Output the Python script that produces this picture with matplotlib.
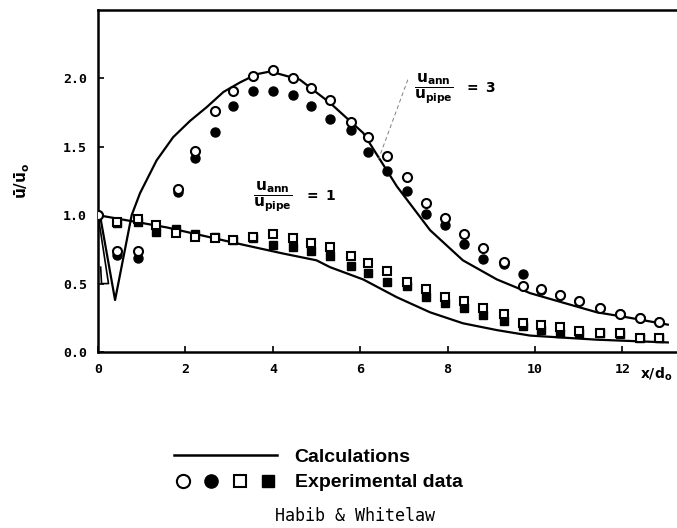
import numpy as np
import matplotlib.pyplot as plt
from matplotlib.lines import Line2D
from matplotlib.legend_handler import HandlerTuple

plt.rcParams['mathtext.fontset'] = 'dejavusans'

# calculations, u_ann/u_pipe = 3
calc3_x = [0.05, 0.39, 0.77, 0.96, 1.34, 1.72, 2.11, 2.49, 2.87, 3.25, 3.63, 3.94, 4.62, 5.31, 6.07, 6.84, 7.60, 8.35, 9.13, 9.89, 10.65, 11.42, 12.17, 13.04]
calc3_y = [0.99, 0.38, 1.0, 1.16, 1.40, 1.57, 1.69, 1.79, 1.90, 1.97, 2.03, 2.05, 1.99, 1.82, 1.60, 1.21, 0.89, 0.67, 0.53, 0.43, 0.36, 0.29, 0.25, 0.20]
# small kink near the inlet
kink_x = [0.0, 0.24, 0.08, 0.06]
kink_y = [1.0, 0.50, 0.50, 0.62]
# calculations, u_ann/u_pipe = 1
calc1_x = [0.0, 1.58, 3.09, 4.23, 5.0, 5.31, 6.07, 6.84, 7.60, 8.35, 9.13, 9.89, 11.42, 13.04]
calc1_y = [1.0, 0.91, 0.80, 0.72, 0.67, 0.62, 0.53, 0.40, 0.29, 0.21, 0.16, 0.12, 0.09, 0.07]

# experimental data, ratio 3 (circles)
circ_x = [0.0, 0.43, 0.92, 1.83, 2.22, 2.68, 3.1, 3.55, 4.0, 4.46, 4.87, 5.31, 5.78, 6.18, 6.61, 7.06, 7.51, 7.94, 8.37, 8.81, 9.29, 9.73, 10.14, 10.57, 11.0, 11.49, 11.95, 12.4, 12.84]
circ_open = [1.0, 0.74, 0.74, 1.19, 1.47, 1.76, 1.91, 2.02, 2.06, 2.0, 1.93, 1.84, 1.68, 1.57, 1.43, 1.28, 1.09, 0.98, 0.86, 0.76, 0.66, 0.48, 0.46, 0.42, 0.37, 0.32, 0.28, 0.25, 0.22]
circ_fill = [1.0, 0.71, 0.69, 1.17, 1.42, 1.61, 1.80, 1.91, 1.91, 1.88, 1.80, 1.70, 1.62, 1.46, 1.32, 1.18, 1.01, 0.93, 0.79, 0.68, 0.64, 0.57, 0.45, 0.42, 0.37, 0.32, 0.28, 0.25, 0.22]

# experimental data, ratio 1 (squares)
sq_x = [0.43, 0.92, 1.33, 1.78, 2.22, 2.68, 3.1, 3.55, 4.0, 4.46, 4.87, 5.31, 5.78, 6.18, 6.61, 7.06, 7.51, 7.94, 8.37, 8.81, 9.29, 9.73, 10.14, 10.57, 11.0, 11.49, 11.95, 12.4, 12.84]
sq_open = [0.95, 0.97, 0.93, 0.87, 0.84, 0.83, 0.82, 0.84, 0.86, 0.83, 0.80, 0.77, 0.70, 0.65, 0.59, 0.51, 0.46, 0.40, 0.37, 0.32, 0.28, 0.21, 0.20, 0.18, 0.15, 0.14, 0.14, 0.10, 0.10]
sq_fill = [0.94, 0.95, 0.88, 0.90, 0.86, 0.84, 0.82, 0.83, 0.78, 0.77, 0.74, 0.70, 0.63, 0.58, 0.51, 0.48, 0.40, 0.36, 0.32, 0.27, 0.23, 0.19, 0.16, 0.14, 0.14, 0.14, 0.13, 0.10, 0.10]

xticks = [0, 2, 4, 6, 8, 10, 12]
yticks = [0.0, 0.5, 1.0, 1.5, 2.0]

fig = plt.figure(figsize=(6.77, 5.28), dpi=100)
ax = fig.add_axes([0.1448, 0.3333, 0.8552, 0.648])

ax.plot(calc3_x, calc3_y, color='black', lw=1.6, zorder=2)
ax.plot([0.0, calc3_x[0]], [1.0, calc3_y[0]], color='black', lw=1.6, zorder=2)
ax.plot(kink_x, kink_y, color='black', lw=1.2, zorder=2)
ax.plot(calc1_x, calc1_y, color='black', lw=1.6, zorder=2)

ms = 6.5
ax.plot(sq_x, sq_fill, 's', color='black', ms=ms - 0.5, zorder=3)
ax.plot(sq_x, sq_open, 's', mfc='white', mec='black', mew=1.5, ms=ms - 0.5, zorder=3)
ax.plot(circ_x, circ_fill, 'o', color='black', ms=ms, zorder=3)
ax.plot(circ_x, circ_open, 'o', mfc='white', mec='black', mew=1.5, ms=ms, zorder=3)

ax.set_xlim(0, 13.25)
ax.set_ylim(0, 2.5)
ax.set_xticks(xticks)
ax.set_yticks(yticks)
ax.set_xticklabels([str(t) for t in xticks], family='DejaVu Sans Mono', fontweight='bold', fontsize=9.5)
ax.set_yticklabels(['%.1f' % t for t in yticks], family='DejaVu Sans Mono', fontweight='bold', fontsize=9.5)
ax.tick_params(direction='in', length=4, width=1.2, pad=8)
ax.spines['right'].set_visible(False)
for s in ['left', 'bottom', 'top']:
    ax.spines[s].set_linewidth(1.8)

ax.set_ylabel(r'$\mathbf{\bar{u}/\bar{u}_o}$', fontsize=11, labelpad=22)
ax.text(12.4, -0.16, r'$\mathbf{x/d_o}$', fontsize=10, ha='left', va='center', clip_on=False)

ax.text(3.55, 1.13, r'$\mathbf{\dfrac{u_{ann}}{u_{pipe}}}$', fontsize=11, ha='left', va='center')
ax.text(4.72, 1.14, r'$\mathbf{=\ 1}$', fontsize=10, ha='left', va='center')
ax.text(7.22, 1.92, r'$\mathbf{\dfrac{u_{ann}}{u_{pipe}}}$', fontsize=11, ha='left', va='center')
ax.text(8.38, 1.93, r'$\mathbf{=\ 3}$', fontsize=10, ha='left', va='center')
ax.plot([7.09, 6.41], [1.99, 1.40], color='gray', lw=0.7, ls=(0, (4, 3)))

h_calc = Line2D([], [], color='black', lw=1.8)
h_o = Line2D([], [], marker='o', ls='', mfc='white', mec='black', mew=1.5, ms=9.5)
h_f = Line2D([], [], marker='o', ls='', color='black', ms=9.5)
h_so = Line2D([], [], marker='s', ls='', mfc='white', mec='black', mew=1.5, ms=8.5)
h_sf = Line2D([], [], marker='s', ls='', color='black', ms=8.5)
leg = fig.legend([h_calc, (h_o, h_f, h_so, h_sf)], ['Calculations', 'Experimental data'],
                 handler_map={tuple: HandlerTuple(ndivide=None, pad=0.5)},
                 loc='center', bbox_to_anchor=(0.47, 0.11), frameon=False,
                 handlelength=5.3, handletextpad=0.9, labelspacing=0.4,
                 prop={'family': 'Liberation Sans', 'weight': 'bold', 'size': 14})

fig.text(0.525, 0.005, 'Habib & Whitelaw', family='DejaVu Sans Mono', fontsize=12,
         ha='center', va='bottom')

fig.savefig('out.png', dpi=100)
